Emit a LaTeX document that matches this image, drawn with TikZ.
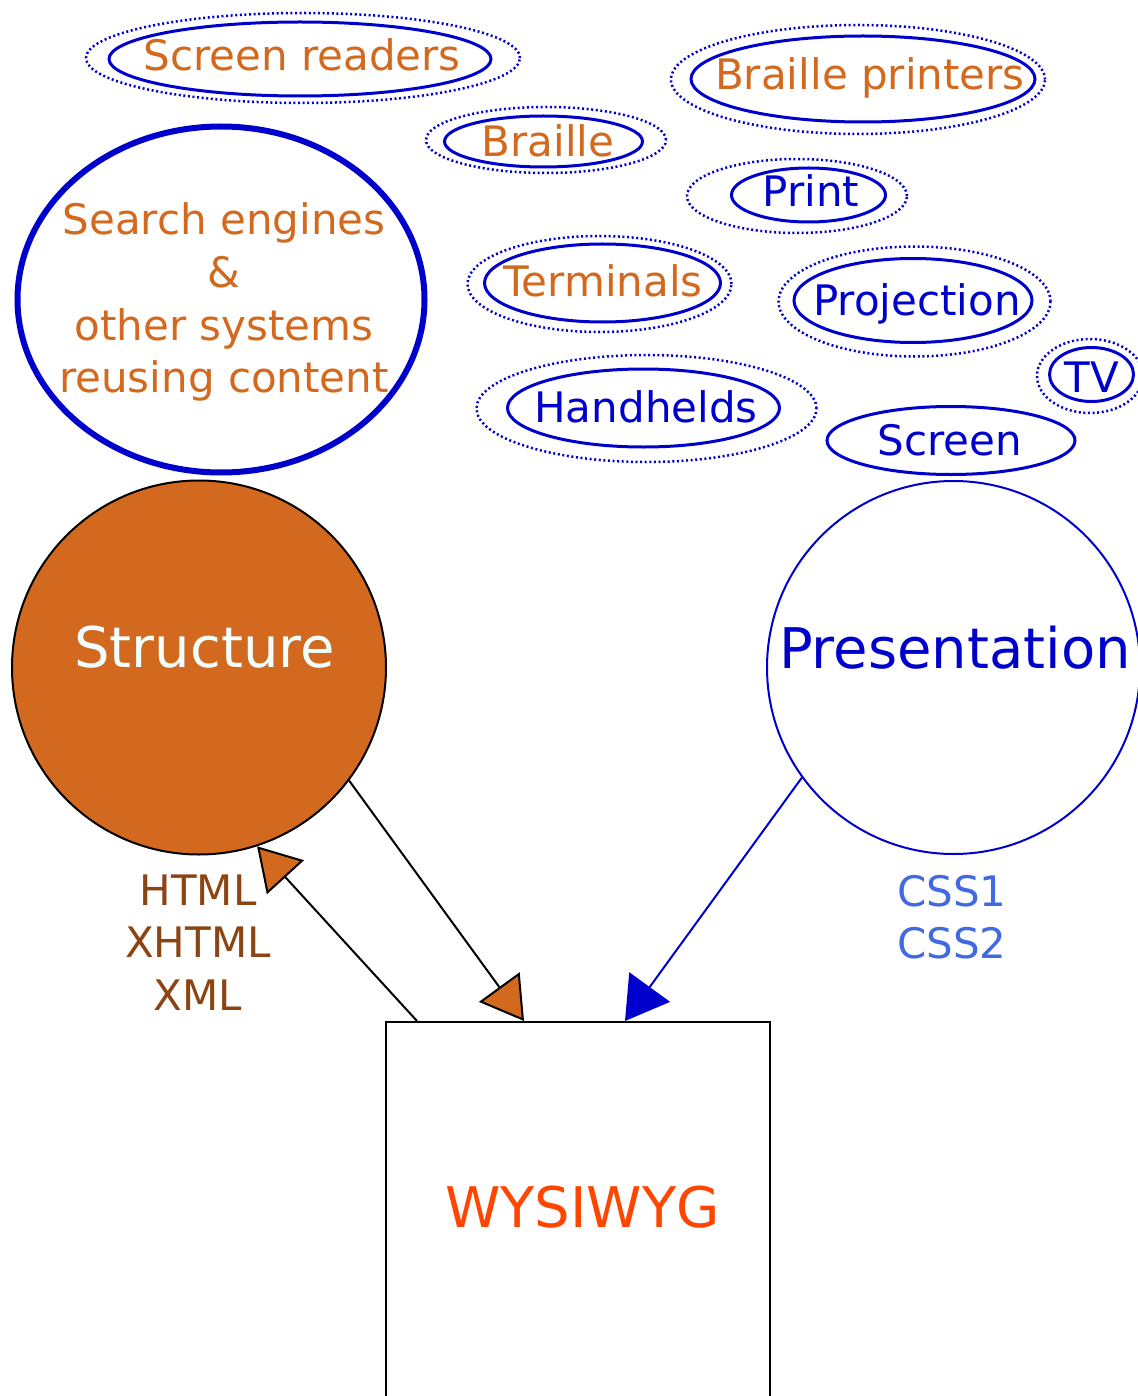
\documentclass[tikz,border=0pt]{standalone}
\usepackage{fontspec}
\setmainfont{DejaVu Sans}
\usetikzlibrary{arrows.meta,shapes.geometric,calc}
\definecolor{choc}{HTML}{D2691E}
\definecolor{mblue}{HTML}{0000CD}
\definecolor{sbrown}{HTML}{8B4513}
\definecolor{rblue}{HTML}{4169E1}
\definecolor{ored}{HTML}{FF4500}
\definecolor{azur}{HTML}{F0FFFF}
\begin{document}
\begin{tikzpicture}[x=1pt,y=-1pt,
  inell/.style={ellipse, draw=mblue, line width=3pt, inner sep=0pt},
  outell/.style={draw=mblue, line width=2.5pt, dash pattern=on 2pt off 2.6pt},
  lbl/.style={anchor=base, inner sep=0pt, font=\fontsize{42}{50}\selectfont},
  big/.style={anchor=base, inner sep=0pt, font=\fontsize{56}{67}\selectfont},
  tag/.style={anchor=base, inner sep=0pt, font=\fontsize{42}{50}\selectfont},
  conn/.style={line width=2pt}
]
\useasboundingbox (0,0) rectangle (1137,1396);

% outer dotted / inner solid ellipses
\node[inell, minimum width=382pt, minimum height=74pt] (scr) at (300,59) {};
\draw[outell] ($(scr)+(3,-1)$) ellipse [x radius=217pt, y radius=45pt];
\node[lbl, text=choc] (scrt) at (302,71) {Screen readers};

\node[inell, minimum width=198pt, minimum height=51pt] (bra) at (543.5,141.5) {};
\draw[outell] ($(bra)+(2.5,-1.5)$) ellipse [x radius=120pt, y radius=33pt];
\node[lbl, text=choc] (brat) at (548,157) {Braille};

\node[inell, minimum width=344pt, minimum height=86pt] (bpr) at (863,79) {};
\draw[outell] ($(bpr)+(-5,0.5)$) ellipse [x radius=187pt, y radius=54.5pt];
\node[lbl, text=choc] (bprt) at (870,90) {Braille printers};

\node[inell, minimum width=154pt, minimum height=54pt] (prn) at (808.5,195) {};
\draw[outell] ($(prn)+(-11.5,1)$) ellipse [x radius=110pt, y radius=37pt];
\node[lbl, text=mblue] (prnt) at (811,207) {Print};

\node[inell, minimum width=236pt, minimum height=78pt] (ter) at (602.5,283) {};
\draw[outell] ($(ter)+(-3,1)$) ellipse [x radius=132pt, y radius=48pt];
\node[lbl, text=choc] (tert) at (603,297) {Terminals};

\node[inell, minimum width=272pt, minimum height=78pt] (hnd) at (643.5,408) {};
\draw[outell] ($(hnd)+(3,0.5)$) ellipse [x radius=170pt, y radius=53.5pt];
\node[lbl, text=mblue] (hndt) at (646,422) {Handhelds};

\node[inell, minimum width=238pt, minimum height=84pt] (prj) at (913,300.5) {};
\draw[outell] ($(prj)+(1.5,1)$) ellipse [x radius=136pt, y radius=55pt];
\node[lbl, text=mblue] (prjt) at (917,316) {Projection};

\node[inell, minimum width=84pt, minimum height=54pt] (tv) at (1091.5,374.5) {};
\draw[outell] ($(tv)+(-1.5,1.5)$) ellipse [x radius=53pt, y radius=37pt];
\node[lbl, text=mblue] (tvt) at (1092,392) {TV};

\node[inell, minimum width=248pt, minimum height=68pt] (scn) at (951,440.5) {};
\node[lbl, text=mblue] (scnt) at (950,455) {Screen};

% search engines ellipse
\node[ellipse, draw=mblue, line width=6pt, inner sep=0pt,
      minimum width=407pt, minimum height=346pt] (seng) at (221,299.5) {};
\node[lbl, text=choc] (se1) at (224,235) {Search engines};
\node[lbl, text=choc] (se2) at (224,287.5) {\&};
\node[lbl, text=choc] (se3) at (224,340) {other systems};
\node[lbl, text=choc] (se4) at (224,392.5) {reusing content};

% main circles
\node[circle, fill=choc, draw=black, line width=2pt, inner sep=0pt,
      minimum size=374pt] (struct) at (199,667.5) {};
\node[big, text=azur] (structt) at (204.5,667) {Structure};
\node[circle, fill=white, draw=mblue, line width=2pt, inner sep=0pt,
      minimum size=373pt] (pres) at (953.5,667.5) {};
\node[big, text=mblue] (prest) at (955,668) {Presentation};

% labels under circles
\node[tag, text=sbrown] (h1) at (198,905) {HTML};
\node[tag, text=sbrown] (h2) at (198,957.5) {XHTML};
\node[tag, text=sbrown] (h3) at (198,1010) {XML};
\node[tag, text=rblue] (c1) at (952,906) {CSS1};
\node[tag, text=rblue] (c2) at (952,958.5) {CSS2};

% WYSIWYG box
\node[draw=black, line width=2pt, anchor=north west, inner sep=0pt,
      minimum width=384pt, minimum height=430pt] (wys) at (385,1021) {};
\node[big, text=ored] (wyst) at (582.5,1227) {WYSIWYG};

% connectors
\coordinate (w1) at ($(wys.north west)+(32,0)$);
\coordinate (w2) at ($(wys.north west)+(139,0)$);
\coordinate (w3) at ($(wys.north west)+(240,0)$);
\draw[conn, black, -{Triangle[length=42pt,width=50pt,fill=choc]}] (w1) -- (struct.-72.8);
\draw[conn, black, -{Triangle[length=42pt,width=50pt,fill=choc]}] (struct.-37.4) -- (w2);
\draw[conn, mblue, -{Triangle[length=42pt,width=50pt,fill=mblue]}] (pres.216.5) -- (w3);
\end{tikzpicture}
\end{document}
